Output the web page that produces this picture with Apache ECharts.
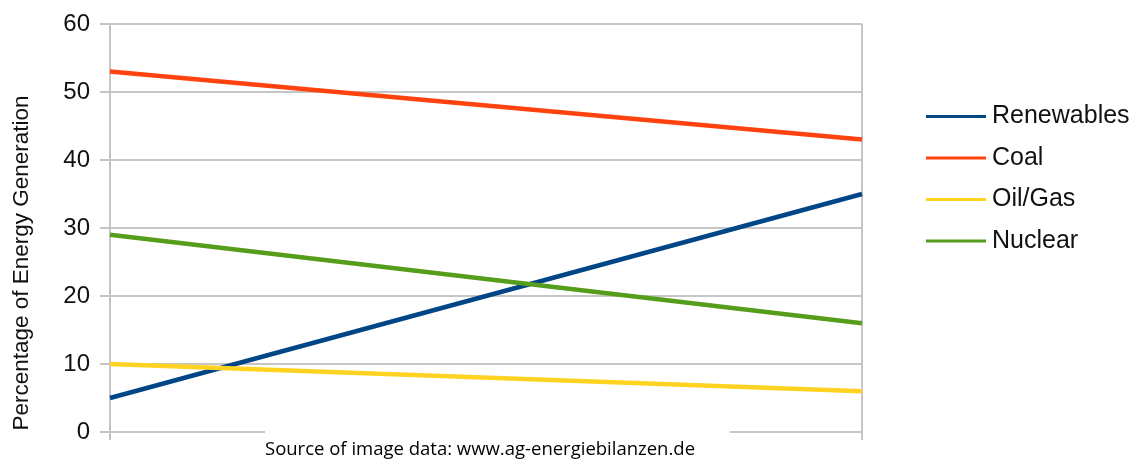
<!DOCTYPE html>
<html>
<head>
<meta charset="utf-8">
<script src="https://cdn.jsdelivr.net/npm/echarts@6/dist/echarts.min.js"></script>
<style>
  html, body { margin: 0; padding: 0; background: #fff; }
  #chart { width: 1138px; height: 459px; }
</style>
</head>
<body>
<div id="chart"></div>
<script>
// Share of German electricity generation by source (percent), first and last point
const periods = ['Start', 'End'];
const renewables = [5, 35];
const coal = [53, 43];
const oilGas = [10, 6];
const nuclear = [29, 16];
const yTicks = { min: 0, max: 60, step: 10 };

const seriesDefs = [
  { name: 'Renewables', data: renewables, color: '#004586' },
  { name: 'Coal', data: coal, color: '#ff420e' },
  { name: 'Oil/Gas', data: oilGas, color: '#ffd320' },
  { name: 'Nuclear', data: nuclear, color: '#579d1c' }
];

const gridColor = '#c6c6c6';
const font = 'Liberation Sans, Arial, sans-serif';

const chart = echarts.init(document.getElementById('chart'));
chart.setOption({
  animation: false,
  backgroundColor: '#ffffff',
  grid: { left: 110, right: 276, top: 24, bottom: 27, containLabel: false, outerBoundsMode: 'none' },
  legend: {
    orient: 'vertical',
    left: 926,
    top: 104,
    padding: 0,
    itemWidth: 60,
    itemHeight: 3,
    itemGap: 16.5,
    icon: 'rect',
    textStyle: { fontFamily: font, fontSize: 25, color: '#111', lineHeight: 25, padding: [0, 0, 0, 1] },
    data: seriesDefs.map(s => s.name)
  },
  xAxis: {
    type: 'category',
    data: periods,
    boundaryGap: false,
    axisLine: { lineStyle: { color: gridColor, width: 2 } },
    axisTick: { show: true, length: 8, lineStyle: { color: gridColor, width: 2 } },
    axisLabel: { show: false },
    splitLine: { show: true, lineStyle: { color: gridColor, width: 2 } }
  },
  yAxis: {
    type: 'value',
    min: yTicks.min,
    max: yTicks.max,
    interval: yTicks.step,
    axisLine: { show: true, lineStyle: { color: gridColor, width: 2 } },
    axisTick: { show: true, length: 10, lineStyle: { color: gridColor, width: 2 } },
    axisLabel: { fontFamily: font, fontSize: 24, color: '#111', margin: 20 },
    splitLine: { show: true, lineStyle: { color: gridColor, width: 2 } }
  },
  series: seriesDefs.map(s => ({
    name: s.name,
    type: 'line',
    data: s.data,
    symbol: 'none',
    color: s.color,
    lineStyle: { color: s.color, width: 4.5 },
    itemStyle: { color: s.color }
  })),
  graphic: [
    {
      // y-axis title, set lower than the axis midpoint
      type: 'text',
      x: 22,
      y: 263,
      rotation: Math.PI / 2,
      style: {
        text: 'Percentage of Energy Generation',
        fontFamily: font,
        fontSize: 22.5,
        fill: '#111',
        align: 'center',
        verticalAlign: 'middle'
      }
    },
    {
      type: 'rect',
      left: 265,
      top: 430,
      shape: { width: 465, height: 29 },
      style: { fill: '#ffffff' },
      z: 100
    },
    {
      type: 'text',
      left: 265,
      top: 440,
      style: {
        text: 'Source of image data: www.ag-energiebilanzen.de',
        fontFamily: 'Open Sans, Noto Sans, sans-serif',
        fontSize: 18.5,
        fill: '#000'
      },
      z: 101
    }
  ]
});
</script>
</body>
</html>
